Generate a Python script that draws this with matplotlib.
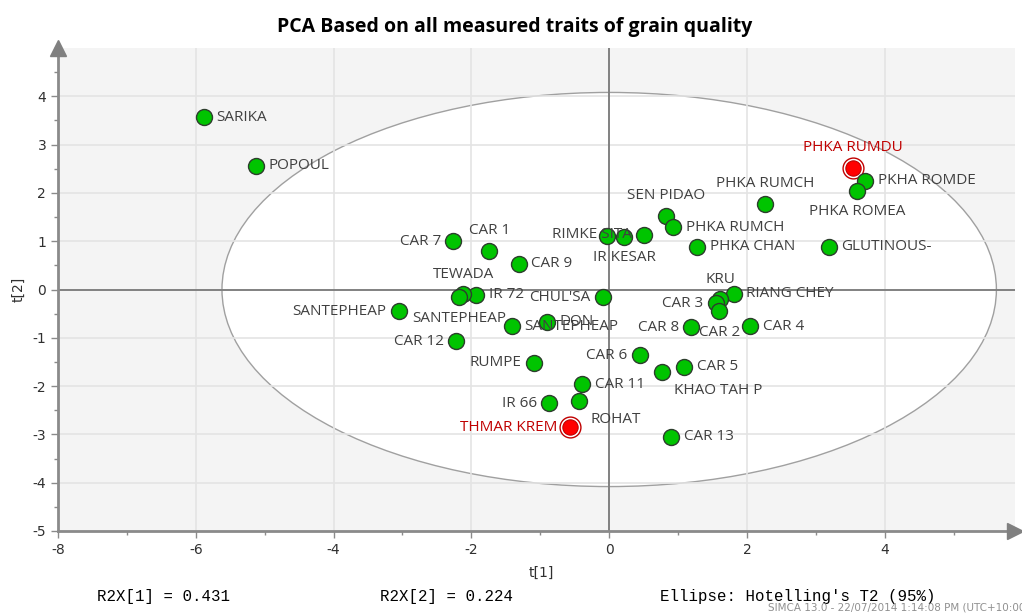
import matplotlib
matplotlib.use('Agg')
import matplotlib.pyplot as plt
from matplotlib.patches import Ellipse
from matplotlib.ticker import MultipleLocator

plt.rcParams['axes.unicode_minus'] = False

# ---------------- data ----------------
names = ["SARIKA", "POPOUL", "CAR 7", "CAR 1", "CAR 9", "", "IR KESAR", "RIMKE SITA",
         "SEN PIDAO", "PHKA RUMCH", "PHKA CHAN", "PHKA RUMCH", "PHKA RUMDU", "PKHA ROMDE",
         "PHKA ROMEA", "GLUTINOUS-", "RIANG CHEY", "KRU", "CAR 3", "CAR 2", "CAR 4", "CAR 8",
         "CHUL'SA", "IR 72", "TEWADA", "SANTEPHEAP", "SANTEPHEAP", "SANTEPHEAP", "DON",
         "CAR 12", "RUMPE", "CAR 6", "CAR 5", "KHAO TAH P", "CAR 11", "ROHAT", "IR 66",
         "THMAR KREM", "CAR 13"]
t1 = [-5.88, -5.12, -2.26, -1.74, -1.31, -0.03, 0.22, 0.51,
      0.83, 0.93, 1.28, 2.26, 3.54, 3.72,
      3.60, 3.19, 1.81, 1.61, 1.55, 1.60, 2.05, 1.19,
      -0.09, -1.93, -2.12, -2.18, -3.05, -1.41, -0.90,
      -2.22, -1.09, 0.45, 1.09, 0.77, -0.39, -0.44, -0.87,
      -0.57, 0.90]
t2 = [3.57, 2.56, 1.00, 0.80, 0.53, 1.10, 1.09, 1.13,
      1.52, 1.29, 0.88, 1.77, 2.52, 2.25,
      2.04, 0.88, -0.09, -0.20, -0.28, -0.45, -0.76, -0.78,
      -0.16, -0.11, -0.10, -0.16, -0.45, -0.76, -0.67,
      -1.07, -1.52, -1.36, -1.60, -1.71, -1.96, -2.31, -2.35,
      -2.85, -3.05]
highlighted = ["PHKA RUMDU", "THMAR KREM"]
r2x = [0.431, 0.224]
ellipse_semi_axes = [5.62, 4.08]
x_ticks = [-8, -6, -4, -2, 0, 2, 4]
y_ticks = [-5, -4, -3, -2, -1, 0, 1, 2, 3, 4]

# label placement (layout only): r=right, l=left, a=above, b=below, br=below-right
label_pos = ["r", "r", "l", "a", "r", None, "b", "l",
             "a", "r", "r", "a", "a", "r",
             "b", "r", "r", "a", "l", "b", "r", "l",
             "l", "r", "a", "b", "l", "r", "r",
             "l", "l", "l", "r", "br", "r", "br", "l",
             "l", "r"]

# ---------------- figure ----------------
fig = plt.figure(figsize=(10.22, 6.13), dpi=100)
ax = fig.add_axes([58/1022, 1-531/613, (1015-58)/1022, (531-48)/613])
ax.set_xlim(-8, 5.89)
ax.set_ylim(-5, 5.0)
ax.set_facecolor('#f4f4f4')

ell = Ellipse((0, 0), 2*ellipse_semi_axes[0], 2*ellipse_semi_axes[1],
              facecolor='white', edgecolor='#a0a0a0', lw=1.0, zorder=0.3)
ax.add_patch(ell)

ax.set_axisbelow(True)
ax.xaxis.set_major_locator(plt.FixedLocator(x_ticks))
ax.xaxis.set_minor_locator(MultipleLocator(1))
ax.yaxis.set_major_locator(plt.FixedLocator(y_ticks))
ax.yaxis.set_minor_locator(MultipleLocator(0.5))
ax.grid(True, which='major', color='#e4e4e4', lw=1.2)

ax.axhline(0, color='#707070', lw=1.2, zorder=1)
ax.axvline(0, color='#707070', lw=1.2, zorder=1)

for s in ['top', 'right']:
    ax.spines[s].set_visible(False)
for s in ['left', 'bottom']:
    ax.spines[s].set_color('#8a8a8a')
    ax.spines[s].set_linewidth(2)
ax.tick_params(which='major', direction='out', length=5, width=1, color='#8a8a8a',
               labelsize=10, labelcolor='#303030')
ax.tick_params(which='minor', direction='out', length=3, width=1, color='#8a8a8a')

# axis arrows
ax.plot([0], [1], marker='^', ms=11, color='#808080', transform=ax.transAxes,
        clip_on=False, zorder=5)
ax.plot([1], [0], marker='>', ms=11, color='#808080', transform=ax.transAxes,
        clip_on=False, zorder=5)

# points
for n, x, y in zip(names, t1, t2):
    if n in highlighted:
        ax.plot(x, y, 'o', ms=15, mfc='white', mec='#c00000', mew=1.0, zorder=4)
        ax.plot(x, y, 'o', ms=11, mfc='#ff0000', mec='#c00000', mew=0.8, zorder=4)
    else:
        ax.plot(x, y, 'o', ms=11.5, mfc='#00c400', mec='#2d3d2d', mew=1.0, zorder=4)

offsets = {"r": ((9, 0), 'left', 'center'),
           "l": ((-9, 0), 'right', 'center'),
           "a": ((0, 14.5), 'center', 'center'),
           "b": ((0, -15), 'center', 'center'),
           "br": ((8.5, -13.5), 'left', 'center')}
for n, x, y, p in zip(names, t1, t2, label_pos):
    if p is None or not n:
        continue
    off, ha, va = offsets[p]
    col = '#c00000' if n in highlighted else '#404040'
    ax.annotate(n, (x, y), xytext=off, textcoords='offset points', ha=ha, va=va,
                fontsize=11, color=col, family=['Open Sans', 'DejaVu Sans'], zorder=6)

# text
fig.text(515/1022, 1-27/613, "PCA Based on all measured traits of grain quality",
         ha='center', va='center', fontsize=14, fontweight='bold',
         family=['Open Sans', 'DejaVu Sans'], color='black')
fig.text(541/1022, 1-573/613, "t[1]", ha='center', va='center', fontsize=10, color='#303030')
fig.text(18/1022, 1-289/613, "t[2]", ha='center', va='center', fontsize=10,
         rotation=90, color='#303030')

mono = ['Liberation Mono', 'DejaVu Sans Mono']
fig.text(97/1022, 1-596/613, f"R2X[1] = {r2x[0]:.3f}", ha='left', va='center',
         fontsize=11.3, family=mono, color='black')
fig.text(380/1022, 1-596/613, f"R2X[2] = {r2x[1]:.3f}", ha='left', va='center',
         fontsize=11.3, family=mono, color='black')
fig.text(660/1022, 1-596/613, "Ellipse: Hotelling's T2 (95%)", ha='left', va='center',
         fontsize=11.3, family=mono, color='black')
fig.text(768/1022, 1-607/613, "SIMCA 13.0 - 22/07/2014 1:14:08 PM (UTC+10:00)",
         ha='left', va='center', fontsize=7.5, color='#909090',
         family=['Liberation Sans Narrow', 'DejaVu Sans'])

fig.savefig('out.png', dpi=100)
